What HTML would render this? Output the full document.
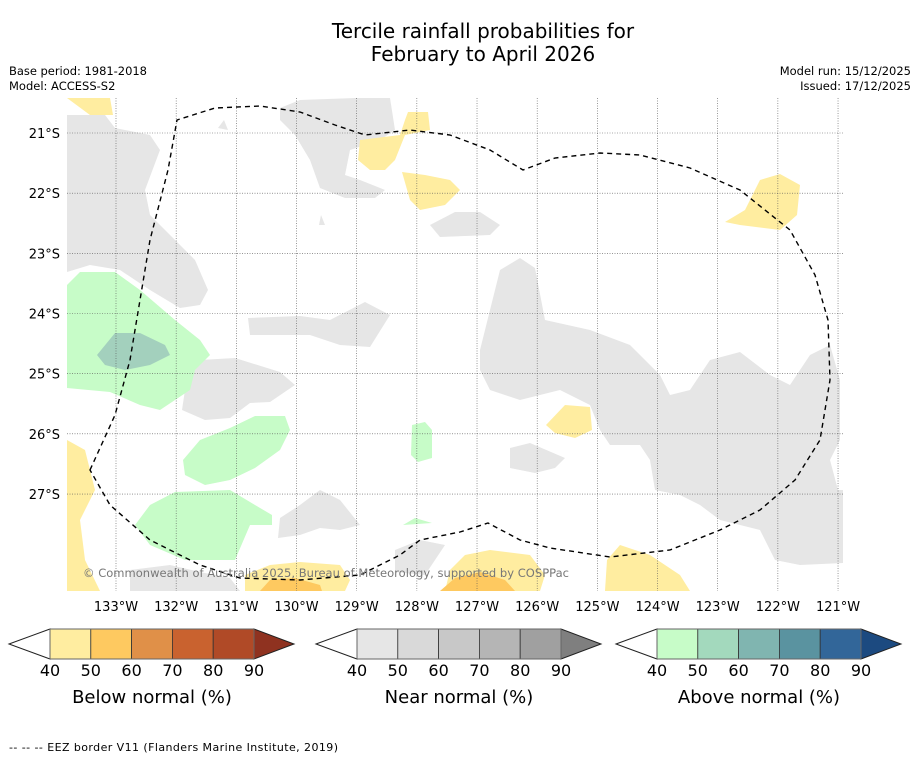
<!DOCTYPE html>
<html><head><meta charset="utf-8"><style>
body{margin:0;background:#fff;width:919px;height:758px;overflow:hidden;font-family:"DejaVu Sans","Liberation Sans",sans-serif;}
svg text{font-family:"DejaVu Sans","Liberation Sans",sans-serif;}
</style></head><body>
<svg id="chart" width="919" height="758" viewBox="0 0 919 758" xmlns="http://www.w3.org/2000/svg">
<text x="483" y="38" font-size="20" text-anchor="middle">Tercile rainfall probabilities for</text>
<text x="483" y="61" font-size="20" text-anchor="middle">February to April 2026</text>
<text x="9" y="75" font-size="11.5" textLength="138">Base period: 1981-2018</text>
<text x="9" y="90" font-size="11.5">Model: ACCESS-S2</text>
<text x="911" y="75" font-size="11.5" text-anchor="end">Model run: 15/12/2025</text>
<text x="911" y="90" font-size="11.5" text-anchor="end">Issued: 17/12/2025</text>
<defs><clipPath id="mapclip"><rect x="67" y="98" width="776" height="493"/></clipPath></defs>
<g clip-path="url(#mapclip)">
<g fill="#e6e6e6">
<path d="M67,115 L105,115 L115,128 L150,135 L160,150 L145,190 L150,215 L175,240 L195,260 L208,290 L200,305 L180,308 L150,290 L120,270 L90,265 L67,272 Z"/>
<path d="M280,108 L300,100 L355,98 L390,98 L395,130 L380,140 L350,150 L345,175 L360,180 L385,190 L375,198 L345,198 L320,188 L310,160 L295,135 L280,120 Z"/>
<path d="M248,318 L300,316 L330,320 L365,302 L390,315 L370,347 L340,345 L310,335 L250,335 Z"/>
<path d="M200,360 L235,358 L280,372 L295,385 L270,402 L250,403 L230,418 L205,420 L182,410 L185,390 Z"/>
<path d="M430,225 L455,212 L480,212 L500,225 L490,235 L440,237 Z"/>
<path d="M480,350 L490,310 L500,270 L520,258 L535,268 L545,320 L590,330 L630,345 L660,375 L670,395 L690,390 L710,360 L740,352 L770,375 L790,385 L810,355 L830,345 L840,380 L840,440 L830,460 L838,490 L843,490 L843,563 L800,565 L775,560 L760,530 L740,525 L720,520 L700,505 L680,495 L655,490 L650,460 L640,445 L610,445 L600,430 L590,405 L560,390 L520,400 L490,390 L480,370 Z"/>
<path d="M510,448 L530,443 L565,458 L555,468 L535,473 L510,468 Z"/>
<path d="M280,518 L300,505 L320,490 L340,500 L360,525 L340,530 L320,528 L300,535 L278,538 Z"/>
<path d="M395,550 L420,540 L445,545 L435,560 L425,575 L395,572 Z"/>
<path d="M130,570 L170,565 L200,572 L230,578 L240,591 L130,591 Z"/>
<path d="M218,128 L224,120 L228,130 Z"/>
<path d="M319,225 L321,215 L325,225 Z"/>
</g>
<g fill="#ffeda0">
<path d="M67,98 L110,98 L113,115 L90,115 Z"/>
<path d="M360,140 L400,135 L405,120 L408,112 L428,112 L430,130 L405,135 L395,160 L385,170 L370,170 L358,160 Z"/>
<path d="M402,172 L425,175 L450,180 L460,190 L445,205 L420,210 L410,200 Z"/>
<path d="M725,222 L745,210 L760,180 L780,174 L800,185 L797,215 L780,230 L740,225 Z"/>
<path d="M546,425 L565,405 L590,407 L592,430 L575,438 L555,433 Z"/>
<path d="M67,440 L85,450 L95,490 L80,520 L85,560 L100,591 L67,591 Z"/>
<path d="M607,560 L620,545 L650,555 L680,575 L690,591 L605,591 Z"/>
<path d="M465,555 L490,550 L530,555 L545,575 L540,591 L445,591 L450,570 Z"/>
<path d="M245,575 L270,565 L300,562 L340,565 L350,580 L345,591 L245,591 Z"/>
</g>
<g fill="#fec960">
<path d="M260,591 L270,580 L295,578 L320,585 L322,591 Z"/>
<path d="M440,591 L455,578 L480,572 L505,580 L515,591 Z"/>
</g>
<g fill="#c7fcc8">
<path d="M67,285 L80,272 L115,272 L140,290 L175,320 L200,340 L210,355 L195,370 L190,390 L160,410 L140,405 L110,392 L67,388 Z"/>
<path d="M183,460 L200,440 L230,428 L255,416 L285,416 L290,430 L280,450 L255,468 L230,480 L205,485 L185,475 Z"/>
<path d="M135,525 L150,505 L175,492 L230,490 L255,505 L272,515 L272,525 L250,525 L235,560 L185,560 L150,545 Z"/>
<path d="M412,425 L425,422 L432,430 L432,458 L418,462 L411,455 Z"/>
<path d="M403,525 L415,518 L432,523 Z"/>
</g>
<path fill="#a3d0bd" d="M97,355 L115,333 L140,333 L165,345 L170,355 L150,365 L125,370 L105,365 Z"/>
<g id="grid" stroke="#555" stroke-width="0.6" stroke-dasharray="1,1.5"></g>
<path fill="none" stroke="#000" stroke-width="1.4" stroke-dasharray="5,4" d="M90,470 L115,415 L130,360 L150,240 L168,170 L177,120 L215,108 L260,106 L300,112 L335,125 L365,135 L410,130 L450,135 L490,150 L523,170 L555,158 L600,153 L640,155 L690,168 L740,190 L790,230 L815,275 L828,320 L830,380 L820,440 L795,480 L760,510 L720,530 L670,550 L610,557 L550,548 L520,540 L488,523 L460,532 L420,540 L400,555 L360,575 L300,580 L240,578 L200,565 L150,540 L110,505 Z"/>
<text x="83" y="577" font-size="11.5" fill="#777" textLength="486">© Commonwealth of Australia 2025, Bureau of Meteorology, supported by COSPPac</text>
</g>
<g id="axes"></g>
<g id="cbars"></g>
<text x="9" y="751" font-size="11" textLength="329">--  --  -- EEZ border V11 (Flanders Marine Institute, 2019)</text>
</svg>
<script>
const lonTicks=[-133,-132,-131,-130,-129,-128,-127,-126,-125,-124,-123,-122,-121];
const latTicks=[-21,-22,-23,-24,-25,-26,-27];
const cbTickLabels=["40","50","60","70","80","90"];
const belowColors=["#ffeda0","#fec960","#e09048","#c9622f","#b04a27","#8f3220"];
const nearColors=["#e6e6e6","#d9d9d9","#c8c8c8","#b5b5b5","#a0a0a0","#7f7f7f"];
const aboveColors=["#c7fcc8","#a3d9bd","#80b5b0","#5a93a0","#326699","#1c4a80"];
const cbTitles=["Below normal (%)","Near normal (%)","Above normal (%)"];
const NS="http://www.w3.org/2000/svg";
function xLon(l){return 116+(l+133)*60.17;}
function yLat(l){return 133+(-21-l)*60.17;}
function mk(tag,attrs,parent){const e=document.createElementNS(NS,tag);for(const k in attrs)e.setAttribute(k,attrs[k]);parent.appendChild(e);return e;}
const grid=document.getElementById('grid'),axes=document.getElementById('axes'),cb=document.getElementById('cbars');
lonTicks.forEach(l=>{
 const x=xLon(l);
 const ln=mk('line',{x1:x,x2:x,y1:98,y2:591},grid);
 
 
 const t=mk('text',{x:x,y:611,'font-size':13,'text-anchor':'middle'},axes);
 t.textContent=Math.abs(l)+'°W';
 
 
});
latTicks.forEach(l=>{
 const y=yLat(l);
 const ln=mk('line',{x1:67,x2:843,y1:y,y2:y},grid);
 
 
 const t=mk('text',{x:60,y:y+5,'font-size':13,'text-anchor':'end'},axes);
 t.textContent=Math.abs(l)+'°S';
 
 
});
[belowColors,nearColors,aboveColors].forEach((cols,i)=>{
 const x0=[50,357,657][i],w=40.8,y0=629,h=30;
 const g=mk('g',{},cb);
 
 
 mk('polygon',{points:`${x0-41},${y0+h/2} ${x0},${y0} ${x0},${y0+h}`,fill:'#fff',stroke:'#222','stroke-width':1},g);
 for(let k=0;k<5;k++){const r=mk('rect',{x:x0+k*w,y:y0,width:w,height:h,fill:cols[k],stroke:'#333','stroke-width':0.8},g);
  
  }
 mk('polygon',{points:`${x0+5*w},${y0} ${x0+5*w+40},${y0+h/2} ${x0+5*w},${y0+h}`,fill:cols[5],stroke:'#222','stroke-width':1},g);
 mk('rect',{x:x0,y:y0,width:5*w,height:h,fill:'none',stroke:'#666','stroke-width':1},g);
 cbTickLabels.forEach((s,k)=>{const t=mk('text',{x:x0+k*w,y:676,'font-size':16,'text-anchor':'middle'},g);t.textContent=s;
  
  });
 const tt=mk('text',{x:x0+2.5*w,y:703,'font-size':18,'text-anchor':'middle'},g);tt.textContent=cbTitles[i];
 
 
});
</script>
</body></html>
